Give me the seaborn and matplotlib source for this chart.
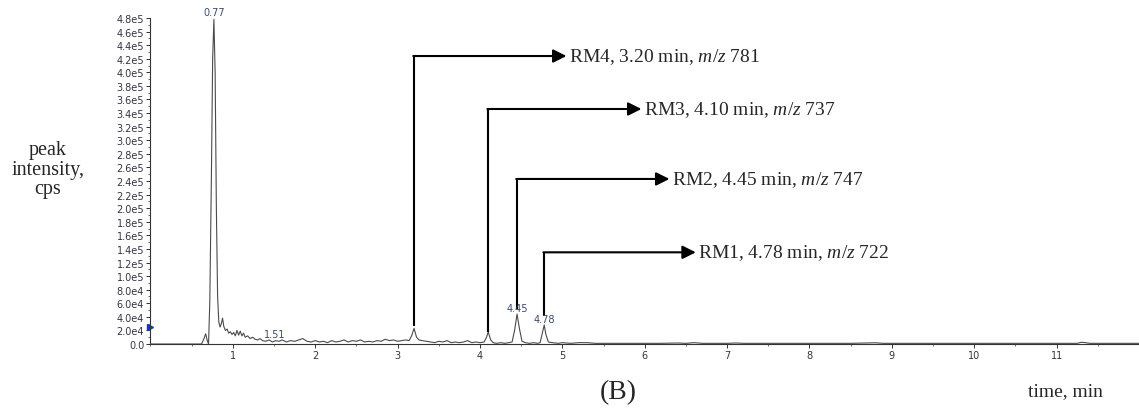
import numpy as np
import pandas as pd
import seaborn as sns
import matplotlib
matplotlib.use("Agg")
from matplotlib import pyplot as plt

# chromatogram trace (time in min, intensity in cps)
times = [0.0, 0.60, 0.62, 0.65, 0.67, 0.69, 0.705, 0.72, 0.74, 0.755, 0.77, 0.785, 0.80,
         0.815, 0.83, 0.845, 0.86, 0.875, 0.89, 0.91, 0.93, 0.95, 0.97, 0.99, 1.01,
         1.03, 1.05, 1.07, 1.09, 1.11, 1.13, 1.15, 1.18, 1.21, 1.24, 1.27, 1.30, 1.33,
         1.36, 1.40, 1.44, 1.48, 1.52, 1.56, 1.60, 1.65, 1.70, 1.75, 1.80, 1.85, 1.90,
         1.95, 2.00, 2.05, 2.10, 2.15, 2.20, 2.25, 2.30, 2.35, 2.40, 2.45, 2.50, 2.55,
         2.60, 2.65, 2.70, 2.75, 2.80, 2.85, 2.90, 2.95, 3.00, 3.05, 3.10, 3.14, 3.17,
         3.20, 3.23, 3.26, 3.30, 3.35, 3.40, 3.45, 3.50, 3.55, 3.60, 3.65, 3.70, 3.75,
         3.80, 3.85, 3.90, 3.95, 4.00, 4.05, 4.08, 4.10, 4.13, 4.16, 4.20, 4.25, 4.30,
         4.35, 4.39, 4.42, 4.45, 4.48, 4.51, 4.55, 4.60, 4.65, 4.70, 4.73, 4.76, 4.78,
         4.80, 4.83, 4.88, 4.95, 5.0, 5.1, 5.2, 5.3, 5.4, 5.5, 5.6, 5.7, 5.8, 5.9, 6.0,
         6.2, 6.4, 6.5, 6.6, 6.7, 6.8, 7.0, 7.1, 7.2, 7.5, 8.0, 8.5, 8.8, 8.9, 9.5,
         10.0, 10.5, 11.0, 11.25, 11.3, 11.35, 11.4, 12.0]
intensity_k = [0, 0, 0, 8, 15, 5, 0, 60, 250, 420, 478, 400, 200,
               70, 32, 25, 30, 38, 26, 20, 22, 16, 18, 14, 17,
               12, 20, 13, 19, 12, 16, 10, 12, 8, 10, 7, 6, 8,
               5, 4, 6, 3, 5, 4, 6, 3, 5, 4, 6, 8, 4,
               3, 5, 3, 4, 2, 5, 3, 4, 6, 3, 5, 4, 6,
               3, 4, 3, 5, 4, 7, 5, 6, 4, 5, 6, 5, 12,
               23, 10, 6, 5, 4, 3, 2, 4, 3, 5, 2, 3, 2,
               3, 5, 2, 3, 2, 3, 10, 18, 6, 2, 1, 2, 1,
               2, 3, 20, 44, 22, 4, 2, 1, 2, 1, 2, 18, 28,
               14, 3, 2, 1, 2, 1, 2, 2, 1, 1, 1, 1, 1, 1, 1,
               1, 1.5, 1, 2, 1, 1, 1, 1.5, 1, 1, 1, 1, 1.8, 1, 1,
               1, 1, 1, 1, 2.5, 2, 1, 1]

# labelled peaks
peak_labels = ["0.77", "1.51", "4.45", "4.78"]
peak_label_x = [0.77, 1.51, 4.45, 4.78]
peak_label_y = [481e3, 8e3, 46e3, 29e3]

# annotated compounds
rm_names = ["RM4", "RM3", "RM2", "RM1"]
rm_times = [3.20, 4.10, 4.45, 4.78]
rm_mz = [781, 737, 747, 722]
rm_start_y = [26e3, 18e3, 52e3, 41e3]
rm_level_y = [424e3, 346e3, 243e3, 135e3]
rm_arrow_x = [5.05, 5.96, 6.30, 6.62]

yticks = np.arange(0, 4.81e5, 2e4)
ytick_labels = ["0.0", "2.0e4", "4.0e4", "6.0e4", "8.0e4", "1.0e5", "1.2e5", "1.4e5",
                "1.6e5", "1.8e5", "2.0e5", "2.2e5", "2.4e5", "2.6e5", "2.8e5", "3.0e5",
                "3.2e5", "3.4e5", "3.6e5", "3.8e5", "4.0e5", "4.2e5", "4.4e5", "4.6e5",
                "4.8e5"]
xticks = [1, 2, 3, 4, 5, 6, 7, 8, 9, 10, 11]

sns.set_style("ticks")
plt.rcParams["mathtext.fontset"] = "custom"
plt.rcParams["mathtext.rm"] = "Liberation Serif"
plt.rcParams["mathtext.it"] = "Liberation Serif:italic"

df = pd.DataFrame({"time": times, "cps": np.array(intensity_k) * 1e3})

fig = plt.figure(figsize=(11.39, 4.10), dpi=100)
ax = fig.add_axes([0.1321, 0.1585, 0.8679, 0.7952])

sns.lineplot(data=df, x="time", y="cps", ax=ax, color="#4a4a4a", lw=0.8,
             sort=False, estimator=None)

ax.set_xlim(0, 12)
ax.set_ylim(0, 4.8e5)
ax.set_yticks(yticks)
ax.set_yticklabels(ytick_labels)
ax.set_xticks(xticks)
ax.set_xticklabels([str(t) for t in xticks])
ax.set_yticks(np.arange(0, 4.81e5, 1e4), minor=True)
ax.set_xticks(np.arange(0, 12.01, 0.5), minor=True)
ax.tick_params(axis="both", which="major", length=3, width=0.7, labelsize=7,
               labelcolor="#333344", color="#333333", pad=1.5)
ax.tick_params(axis="both", which="minor", length=1.5, width=0.5, color="#333333")
ax.set_xlabel("")
ax.set_ylabel("")
sns.despine(ax=ax)
for s in ["left", "bottom"]:
    ax.spines[s].set_linewidth(0.8)
    ax.spines[s].set_color("#333333")

# little blue marker on the y axis
ax.plot([0], [25e3], marker=">", color="#1a2fd0", ms=4, clip_on=False)

for lab, x, y in zip(peak_labels, peak_label_x, peak_label_y):
    ax.text(x, y, lab, fontsize=7, color="#3a4a6a", ha="center", va="bottom")

for name, t, mz, y0, y1, xa in zip(rm_names, rm_times, rm_mz, rm_start_y, rm_level_y, rm_arrow_x):
    ax.plot([t, t], [y0, y1], color="black", lw=1.5, solid_capstyle="butt")
    ax.annotate("", xy=(xa, y1), xytext=(t - 0.01, y1),
                arrowprops=dict(arrowstyle="-|>", color="black", lw=1.5,
                                mutation_scale=20, shrinkA=0, shrinkB=0))
    ax.text(xa + 0.03, y1, f"{name}, {t:.2f} min, $\\mathit{{m/z}}$ {mz}",
            fontsize=14, family="Liberation Serif", ha="left", va="center")

fig.text(0.042, 0.585, "peak\nintensity,\ncps", fontsize=14.5, family="Liberation Serif",
         ha="center", va="center", linespacing=1.05)
fig.text(0.543, 0.042, "(B)", fontsize=20, family="Liberation Serif", ha="center", va="center")
fig.text(0.935, 0.045, "time, min", fontsize=14, family="Liberation Serif", ha="center", va="center")

fig.savefig("out.png", dpi=100)
